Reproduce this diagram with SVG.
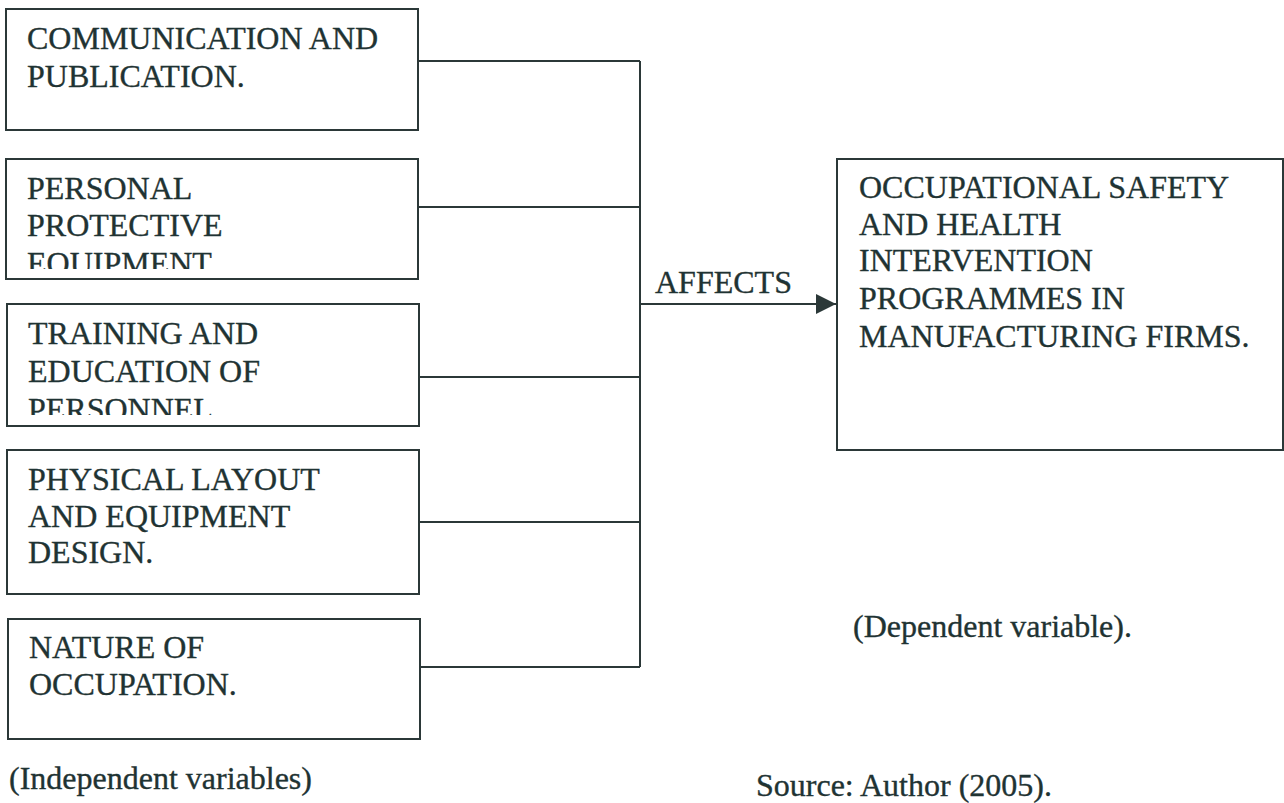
<svg xmlns="http://www.w3.org/2000/svg" width="1284" height="803" viewBox="0 0 1284 803">
<style>
.box{fill:none;stroke:#2b3838;stroke-width:2}
.ln{fill:none;stroke:#2b3838;stroke-width:2}
text{font-family:"Liberation Serif","Times New Roman",serif;font-size:32px;fill:#1f3333;stroke:#1f3333;stroke-width:0.35}
</style>
<defs>
<marker id="arr" viewBox="0 0 10 10" refX="10" refY="5" markerWidth="20" markerHeight="20" markerUnits="userSpaceOnUse" orient="auto">
<path d="M0,0 L10,5 L0,10 z" fill="#2b3838"/>
</marker>
<clipPath id="c2"><rect x="0" y="240" width="420" height="29"/></clipPath>
<clipPath id="c3"><rect x="0" y="390" width="420" height="25"/></clipPath>
</defs>
<rect width="1284" height="803" fill="#ffffff"/>
<g id="n1">
<rect class="box" x="6" y="9" width="412" height="121"/>
<text x="27" y="49">COMMUNICATION AND</text>
<text x="27" y="87">PUBLICATION.</text>
</g>
<g id="n2">
<rect class="box" x="6" y="159" width="412" height="120"/>
<text x="27" y="199">PERSONAL</text>
<text x="27" y="236">PROTECTIVE</text>
<text x="27" y="274" clip-path="url(#c2)">EQUIPMENT</text>
</g>
<g id="n3">
<rect class="box" x="7" y="304" width="412" height="122"/>
<text x="28" y="344">TRAINING AND</text>
<text x="28" y="382">EDUCATION OF</text>
<text x="28" y="420" clip-path="url(#c3)">PERSONNEL.</text>
</g>
<g id="n4">
<rect class="box" x="7" y="450" width="412" height="144"/>
<text x="28" y="490">PHYSICAL LAYOUT</text>
<text x="28" y="527">AND EQUIPMENT</text>
<text x="28" y="563">DESIGN.</text>
</g>
<g id="n5">
<rect class="box" x="8" y="619" width="412" height="120"/>
<text x="29" y="658">NATURE OF</text>
<text x="29" y="695">OCCUPATION.</text>
</g>
<g id="target">
<rect class="box" x="837" y="159" width="446" height="291"/>
<text x="859" y="198">OCCUPATIONAL SAFETY</text>
<text x="859" y="235">AND HEALTH</text>
<text x="859" y="271">INTERVENTION</text>
<text x="859" y="309">PROGRAMMES IN</text>
<text x="859" y="347">MANUFACTURING FIRMS.</text>
</g>
<g id="connectors">
<path class="ln" d="M418,61 H640 M418,207 H640 M419,377 H640 M419,522 H640 M420,667 H640 M640,61 V667"/>
<path class="ln" d="M640,304 H836" marker-end="url(#arr)"/>
<text x="655" y="293">AFFECTS</text>
</g>
<g id="labels">
<text x="9" y="789">(Independent variables)</text>
<text x="853" y="637">(Dependent variable).</text>
<text x="756" y="796">Source: Author (2005).</text>
</g>
</svg>
